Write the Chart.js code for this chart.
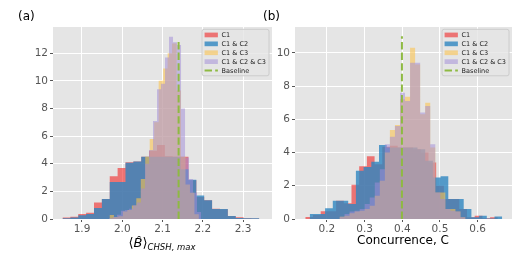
<!DOCTYPE html>
<html>
<head>
<meta charset="utf-8">
<script src="https://cdn.jsdelivr.net/npm/chart.js@4/dist/chart.umd.min.js"></script>
<style>
  html, body { margin: 0; padding: 0; background: #fff; }
  #wrap { position: relative; width: 518px; height: 259px; overflow: hidden; font-family: "DejaVu Sans", sans-serif; }
  canvas { position: absolute; top: 0; }
  #ca { left: 0; }
  #cb { left: 270px; }
  .lbl { position: absolute; white-space: nowrap; color: #000; }
  .tag { font-size: 12px; line-height: 12px; top: 10px; }
  #xla { left: 62px; width: 200px; text-align: center; top: 236px; font-size: 13px; line-height: 13px; }
  #xla sub { font-size: 8.5px; font-style: italic; vertical-align: -3px; }
  #xlb { left: 303px; width: 200px; text-align: center; top: 234px; font-size: 12px; line-height: 12px; }
</style>
</head>
<body>
<div id="wrap">
  <canvas id="ca" width="276" height="259"></canvas>
  <canvas id="cb" width="248" height="259"></canvas>
  <div class="lbl tag" style="left:18px">(a)</div>
  <div class="lbl tag" style="left:263px">(b)</div>
  <div class="lbl" id="xla">⟨<i>B̂</i>⟩<sub>CHSH, max</sub></div>
  <div class="lbl" id="xlb">Concurrence, C</div>
</div>
<script>
/* ---------- series names ---------- */
const names = ['C1', 'C1 & C2', 'C1 & C3', 'C1 & C2 & C3'];
const baseName = 'Baseline';

/* ---------- panel (a): <B>_CHSH,max ---------- */
const aTicksX = [1.9, 2.0, 2.1, 2.2, 2.3];
const aTicksY = [0, 2, 4, 6, 8, 10, 12];
const aC1Range   = [1.8516, 2.3405];
const aC1        = [0.1, 0.17, 0.36, 0.46, 1.2, 1.45, 3.1, 3.7, 4.1, 4.17, 4.5, 4.95, 5.35, 4.55, 4.5, 4.5, 2.8, 1.6, 1.35, 0.75, 0.7, 0.22, 0.12, 0.05, 0.03];
const aC12Range  = [1.8516, 2.3405];
const aC12       = [0.05, 0.1, 0.28, 0.36, 0.8, 1.45, 2.67, 2.67, 4.07, 4.17, 4.5, 4.5, 4.5, 4.5, 4.5, 3.6, 2.84, 1.7, 1.35, 0.73, 0.73, 0.22, 0.07, 0.05, 0.05];
const aC13Range  = [1.9683, 2.1904];
const aC13       = [0.29, 0.15, 0.2, 0.55, 0.65, 0.97, 1.5, 2.9, 4.5, 5.8, 7.0, 10.0, 10.9, 12.0, 12.7, 9.3, 4.5, 2.5, 1.9, 0.35];
const aC123Range = [1.9671, 2.1957];
const aC123      = [0.05, 0.15, 0.3, 0.6, 0.65, 0.75, 1.0, 1.2, 2.2, 4.0, 5.0, 7.1, 9.4, 9.8, 11.7, 13.2, 12.8, 12.6, 8.0, 4.45, 2.9, 1.9, 0.5];
const aBase = 2.140, aBaseTop = 13;

/* ---------- panel (b): concurrence ---------- */
const bTicksX = [0.2, 0.3, 0.4, 0.5, 0.6];
const bTicksY = [0, 2, 4, 6, 8, 10];
const bC1Range   = [0.1425, 0.6535];
const bC1        = [0.12, 0.24, 0.46, 0.46, 1.1, 0.95, 2.06, 3.17, 3.78, 3.3, 4.34, 4.4, 4.3, 4.3, 4.2, 4.0, 3.4, 2.0, 1.2, 1.2, 0.6, 0.1, 0.2, 0.05, 0.1];
const bC12Range  = [0.1542, 0.6652];
const bC12       = [0.3, 0.3, 0.65, 1.1, 1.1, 0.9, 2.9, 3.13, 3.45, 4.45, 4.3, 4.3, 4.3, 4.3, 4.2, 3.5, 2.5, 2.57, 1.2, 1.2, 0.6, 0.1, 0.2, 0.03, 0.15];
const bC13Range  = [0.2333, 0.5678];
const bC13       = [0.14, 0.2, 0.35, 0.45, 0.5, 0.6, 0.8, 1.4, 2.3, 4.0, 5.35, 5.66, 7.2, 7.35, 10.3, 9.3, 6.3, 7.0, 4.3, 1.6, 1.6, 0.6, 0.6, 0.45, 0.1];
const bC123Range = [0.2333, 0.5678];
const bC123      = [0.14, 0.3, 0.45, 0.5, 0.6, 0.9, 1.3, 2.2, 3.0, 4.5, 4.95, 5.6, 7.6, 7.1, 9.4, 9.4, 6.4, 6.8, 4.5, 1.6, 1.2, 0.6, 0.5, 0.45, 0.1];
const bBase = 0.399, bBaseTop = 11;

/* ---------- style ---------- */
const fills = ['rgba(240,45,45,0.62)', 'rgba(46,134,193,0.8)', 'rgba(250,195,80,0.6)', 'rgba(162,140,214,0.52)'];
const green = '#8EBA42';
const dash = [7.4, 3.2];

// bin edges + heights -> step points (last edge repeats last height)
function hist(range, vals) {
  const [lo, hi] = range, w = (hi - lo) / vals.length;
  const pts = vals.map((v, i) => ({x: lo + i * w, y: v}));
  pts.push({x: hi, y: vals[vals.length - 1]});
  return pts;
}

/* gray ggplot panel */
const ggBack = {
  id: 'ggBack',
  beforeDraw(chart) {
    const {ctx, chartArea: a} = chart;
    ctx.save();
    ctx.fillStyle = '#e5e5e5';
    ctx.fillRect(a.left, a.top, a.width, a.height);
    ctx.restore();
  }
};

/* legend box inside the upper right corner */
const boxLegend = {
  id: 'boxLegend',
  afterDatasetsDraw(chart) {
    const {ctx, chartArea: a} = chart;
    const items = chart.data.datasets;
    ctx.save();
    ctx.font = '6.5px "DejaVu Sans"';
    const tw = Math.max(...items.map(d => ctx.measureText(d.label).width));
    const rowH = 8.9, pad = 2.5, patchW = 13.3, gap = 3.7;
    const w = pad + patchW + gap + tw + 3, h = rowH * items.length + 2;
    const x0 = a.right - 3 - w, y0 = a.top + 2.3;
    ctx.beginPath();
    ctx.roundRect(x0, y0, w, h, 2);
    ctx.fillStyle = 'rgba(229,229,229,0.8)';
    ctx.fill();
    ctx.strokeStyle = '#cccccc';
    ctx.lineWidth = 1;
    ctx.stroke();
    items.forEach((d, i) => {
      const cy = y0 + 5.7 + i * rowH;
      if (d.borderDash) {
        ctx.beginPath();
        ctx.setLineDash(dash);
        ctx.strokeStyle = d.borderColor;
        ctx.lineWidth = 2;
        ctx.moveTo(x0 + pad, cy);
        ctx.lineTo(x0 + pad + patchW, cy);
        ctx.stroke();
        ctx.setLineDash([]);
      } else {
        ctx.fillStyle = d.backgroundColor;
        ctx.fillRect(x0 + pad, cy - 2.4, patchW, 4.7);
      }
      ctx.fillStyle = '#222';
      ctx.textBaseline = 'middle';
      ctx.fillText(d.label, x0 + pad + patchW + gap, cy + 0.3);
    });
    ctx.restore();
  }
};

function panel(id, p) {
  const sets = p.series.map((s, i) => ({
    label: names[i],
    data: hist(s[0], s[1]),
    stepped: 'before',
    fill: 'origin',
    backgroundColor: fills[i],
    borderColor: 'rgba(0,0,0,0)',
    borderWidth: 0,
    pointRadius: 0,
    order: 10 - i
  }));
  sets.push({
    label: baseName,
    data: [{x: p.base, y: 0}, {x: p.base, y: p.baseTop}],
    borderColor: green,
    backgroundColor: green,
    borderWidth: 2,
    borderDash: dash,
    fill: false,
    pointRadius: 0,
    order: 0
  });
  const tickFont = {family: 'DejaVu Sans', size: 10.5};
  const grid = {color: '#ffffff', lineWidth: 1, tickColor: '#555555', tickLength: 3};
  return new Chart(document.getElementById(id), {
    type: 'line',
    data: {datasets: sets},
    options: {
      responsive: false, animation: false, devicePixelRatio: 1, events: [],
      layout: {padding: {top: 27, right: p.padR, left: 0, bottom: 0}},
      plugins: {legend: {display: false}, tooltip: {enabled: false}},
      scales: {
        x: {
          type: 'linear', min: p.xMin, max: p.xMax,
          afterBuildTicks: s => { s.ticks = p.ticksX.map(v => ({value: v})); },
          afterFit: s => { s.height = 40; },
          ticks: {callback: v => v.toFixed(1), font: tickFont, color: '#555555', padding: 1, maxRotation: 0, autoSkip: false},
          grid: grid, border: {display: false}
        },
        y: {
          min: 0, max: p.yMax,
          afterBuildTicks: s => { s.ticks = p.ticksY.map(v => ({value: v})); },
          afterFit: s => { s.width = p.yW; },
          ticks: {callback: v => String(v), font: tickFont, color: '#555555', padding: 2, autoSkip: false},
          grid: grid, border: {display: false}
        }
      }
    },
    plugins: [ggBack, boxLegend]
  });
}

panel('ca', {
  series: [[aC1Range, aC1], [aC12Range, aC12], [aC13Range, aC13], [aC123Range, aC123]],
  base: aBase, baseTop: aBaseTop, ticksX: aTicksX, ticksY: aTicksY,
  xMin: 1.828, xMax: 2.372, yMax: 13.9, yW: 53, padR: 4
});
panel('cb', {
  series: [[bC1Range, bC1], [bC12Range, bC12], [bC13Range, bC13], [bC123Range, bC123]],
  base: bBase, baseTop: bBaseTop, ticksX: bTicksX, ticksY: bTicksY,
  xMin: 0.1152, xMax: 0.6912, yMax: 11.55, yW: 25, padR: 6
});
</script>
</body>
</html>
